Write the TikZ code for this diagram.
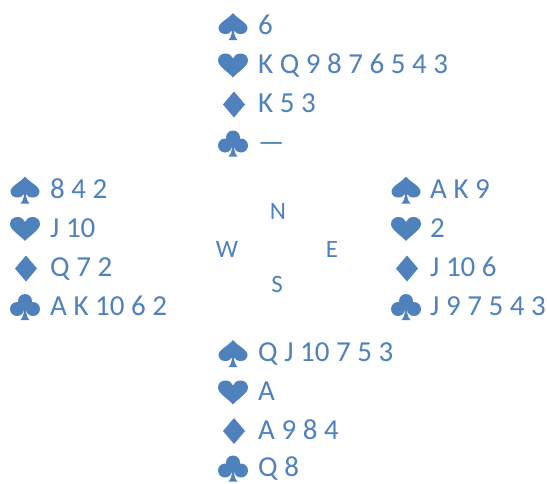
\documentclass[tikz,border=0pt]{standalone}
\usepackage{fontspec}
\setmainfont{Carlito}
\usetikzlibrary{positioning}

\definecolor{deal}{RGB}{79,129,189}

\begin{document}
\begin{tikzpicture}[x=1pt, y=-1pt,
  % Node styles
  cards/.style={anchor=base west, inner sep=0pt, text=deal,
                font=\fontsize{29}{29}\selectfont},
  seat/.style={anchor=base, inner sep=0pt, text=deal,
               font=\fontsize{25}{25}\selectfont},
  % Suit symbols (y points down here)
  spade/.pic={
    \fill[deal] (0,-13.5) .. controls (-4,-8) and (-14.5,-4) .. (-14.5,1.5)
      .. controls (-14.5,5) and (-11.5,7.5) .. (-8,7.5)
      .. controls (-4.5,7.5) and (-2,6) .. (-1,4)
      .. controls (-1,8) and (-2.5,11.5) .. (-4.5,13.5) -- (4.5,13.5)
      .. controls (2.5,11.5) and (1,8) .. (1,4)
      .. controls (2,6) and (4.5,7.5) .. (8,7.5)
      .. controls (11.5,7.5) and (14.5,5) .. (14.5,1.5)
      .. controls (14.5,-4) and (4,-8) .. (0,-13.5) -- cycle;
  },
  heart/.pic={
    \fill[deal] (0,12) .. controls (-4,7) and (-15,1) .. (-15,-5)
      .. controls (-15,-9.5) and (-11.5,-12) .. (-7.5,-12)
      .. controls (-3.5,-12) and (-1,-9.5) .. (0,-7)
      .. controls (1,-9.5) and (3.5,-12) .. (7.5,-12)
      .. controls (11.5,-12) and (15,-9.5) .. (15,-5)
      .. controls (15,1) and (4,7) .. (0,12) -- cycle;
  },
  diamond/.pic={
    \fill[deal] (0,-13) -- (11,0) -- (0,13) -- (-11,0) -- cycle;
  },
  club/.pic={
    \fill[deal] (0,-6) circle[radius=7] (-8,2) circle[radius=7]
      (8,2) circle[radius=7] (0,0) circle[radius=4];
    \fill[deal] (-1,2) .. controls (-1,8) and (-2.5,11) .. (-4.5,13)
      -- (4.5,13) .. controls (2.5,11) and (1,8) .. (1,2) -- cycle;
  },
]
\useasboundingbox (0,0) rectangle (547,483);

% === North ===
\pic         (NS)  at (233, 26.5)   {spade};
\node[cards] (NSc) at (258, 34.5)   {6};
\pic         (NH)  at (233, 65.5)   {heart};
\node[cards] (NHc) at (258, 73.5)   {K Q 9 8 7 6 5 4 3};
\pic         (ND)  at (234, 104.5)  {diamond};
\node[cards] (NDc) at (258, 112.5)  {K 5 3};
\pic         (NC)  at (233, 143.5)  {club};
\node[cards] (NCc) at (258, 151.5)  {—};

% === West ===
\pic         (WS)  at (25, 190)     {spade};
\node[cards] (WSc) at (50, 198)     {8 4 2};
\pic         (WH)  at (25, 229)     {heart};
\node[cards] (WHc) at (50, 237)     {J 10};
\pic         (WD)  at (26, 268.5)   {diamond};
\node[cards] (WDc) at (50, 276.5)   {Q 7 2};
\pic         (WC)  at (25, 307)     {club};
\node[cards] (WCc) at (50, 315)     {A K 10 6 2};

% === East ===
\pic         (ES)  at (406, 190)    {spade};
\node[cards] (ESc) at (430, 198)    {A K 9};
\pic         (EH)  at (406, 229)    {heart};
\node[cards] (EHc) at (430, 237)    {2};
\pic         (ED)  at (407, 268.5)  {diamond};
\node[cards] (EDc) at (430, 276.5)  {J 10 6};
\pic         (EC)  at (406, 307)    {club};
\node[cards] (ECc) at (430, 315)    {J 9 7 5 4 3};

% === South ===
\pic         (SS)  at (233, 353.5)  {spade};
\node[cards] (SSc) at (258, 361.5)  {Q J 10 7 5 3};
\pic         (SH)  at (233, 392.5)  {heart};
\node[cards] (SHc) at (258, 400.5)  {A};
\pic         (SD)  at (234, 431)    {diamond};
\node[cards] (SDc) at (258, 439)    {A 9 8 4};
\pic         (SC)  at (233, 468.5)  {club};
\node[cards] (SCc) at (258, 476.5)  {Q 8};

% === Compass ===
\node[seat] (north) at (278, 219) {N};
\node[seat] (west)  at (227, 257) {W};
\node[seat] (east)  at (332, 257) {E};
\node[seat] (south) at (277, 292) {S};

\end{tikzpicture}
\end{document}
